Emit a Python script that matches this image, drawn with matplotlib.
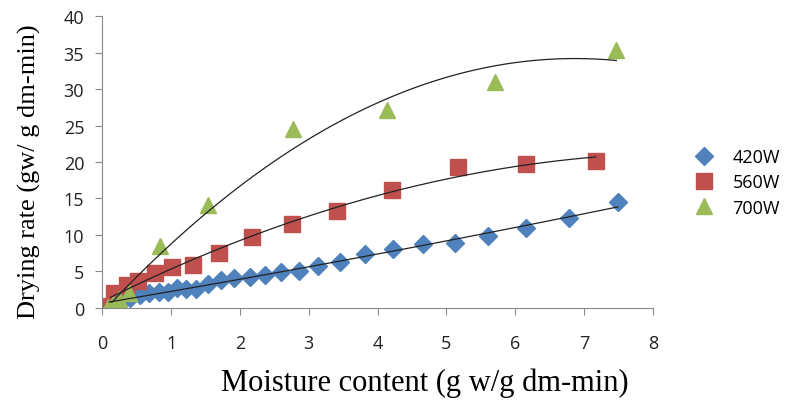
import numpy as np
import matplotlib.pyplot as plt

# 420W
x_420 = [0.04, 0.15, 0.28, 0.41, 0.55, 0.68, 0.82, 0.95, 1.09, 1.22, 1.36, 1.53, 1.72, 1.92,
         2.14, 2.36, 2.60, 2.86, 3.14, 3.46, 3.82, 4.22, 4.66, 5.12, 5.60, 6.16, 6.78, 7.49]
y_420 = [0.1, 0.5, 1.0, 1.3, 1.8, 2.1, 2.2, 2.2, 2.7, 2.6, 2.6, 3.3, 3.8, 4.1,
         4.3, 4.5, 4.9, 5.1, 5.7, 6.3, 7.4, 8.1, 8.8, 8.9, 9.8, 11.0, 12.3, 14.5]

# 560W
x_560 = [0.06, 0.17, 0.36, 0.52, 0.76, 1.02, 1.32, 1.69, 2.17, 2.75, 3.41, 4.21, 5.17, 6.16, 7.17]
y_560 = [0.3, 2.1, 3.2, 3.7, 4.8, 5.6, 5.9, 7.5, 9.7, 11.5, 13.3, 16.1, 19.3, 19.7, 20.1]

# 700W
x_700 = [0.08, 0.15, 0.25, 0.39, 0.84, 1.54, 2.77, 4.14, 5.70, 7.47]
y_700 = [0.1, 0.5, 1.2, 2.1, 8.5, 14.1, 24.5, 27.1, 30.9, 35.3]

series = [
    ('420W', x_420, y_420, 'D', '#4F81BD', 9),
    ('560W', x_560, y_560, 's', '#C0504D', 11),
    ('700W', x_700, y_700, '^', '#9BBB59', 12),
]

fig = plt.figure(figsize=(8.05, 4.06), dpi=100)
ax = fig.add_axes([0.127, 0.239, 0.684, 0.719])

for label, xs, ys, m, c, ms in series:
    ax.plot(xs, ys, linestyle='none', marker=m, color=c, markersize=ms, label=label)

# polynomial trendlines (order 2)
for label, xs, ys, m, c, ms in series:
    coef = np.polyfit(xs, ys, 2)
    xx = np.linspace(min(xs) + 0.06, max(xs), 200)
    ax.plot(xx, np.polyval(coef, xx), color='#222222', linewidth=0.9)

ax.set_xlim(0, 8)
ax.set_ylim(0, 40)
ax.set_xticks(range(0, 9))
ax.set_yticks(range(0, 41, 5))
for s in ['top', 'right']:
    ax.spines[s].set_visible(False)
for s in ['left', 'bottom']:
    ax.spines[s].set_color('#888888')
ax.tick_params(axis='both', colors='#888888', labelcolor='#222222', labelsize=13, length=5)
ax.tick_params(axis='x', pad=14)
ax.tick_params(axis='y', pad=8)
for t in ax.get_xticklabels() + ax.get_yticklabels():
    t.set_family('Open Sans')

ax.set_xlabel('Moisture content (g w/g dm-min)', family='Liberation Serif', fontsize=22)
ax.xaxis.set_label_coords(0.586, -0.205)
ax.set_ylabel('Drying rate (gw/ g dm-min)', family='Liberation Serif', fontsize=19)
ax.yaxis.set_label_coords(-0.112, 0.47)

leg = ax.legend(loc='center left', bbox_to_anchor=(1.03, 0.43), frameon=False,
                prop={'family': 'Open Sans', 'size': 13}, handletextpad=0.6, labelspacing=0.4)

fig.savefig('out.png', dpi=100)
